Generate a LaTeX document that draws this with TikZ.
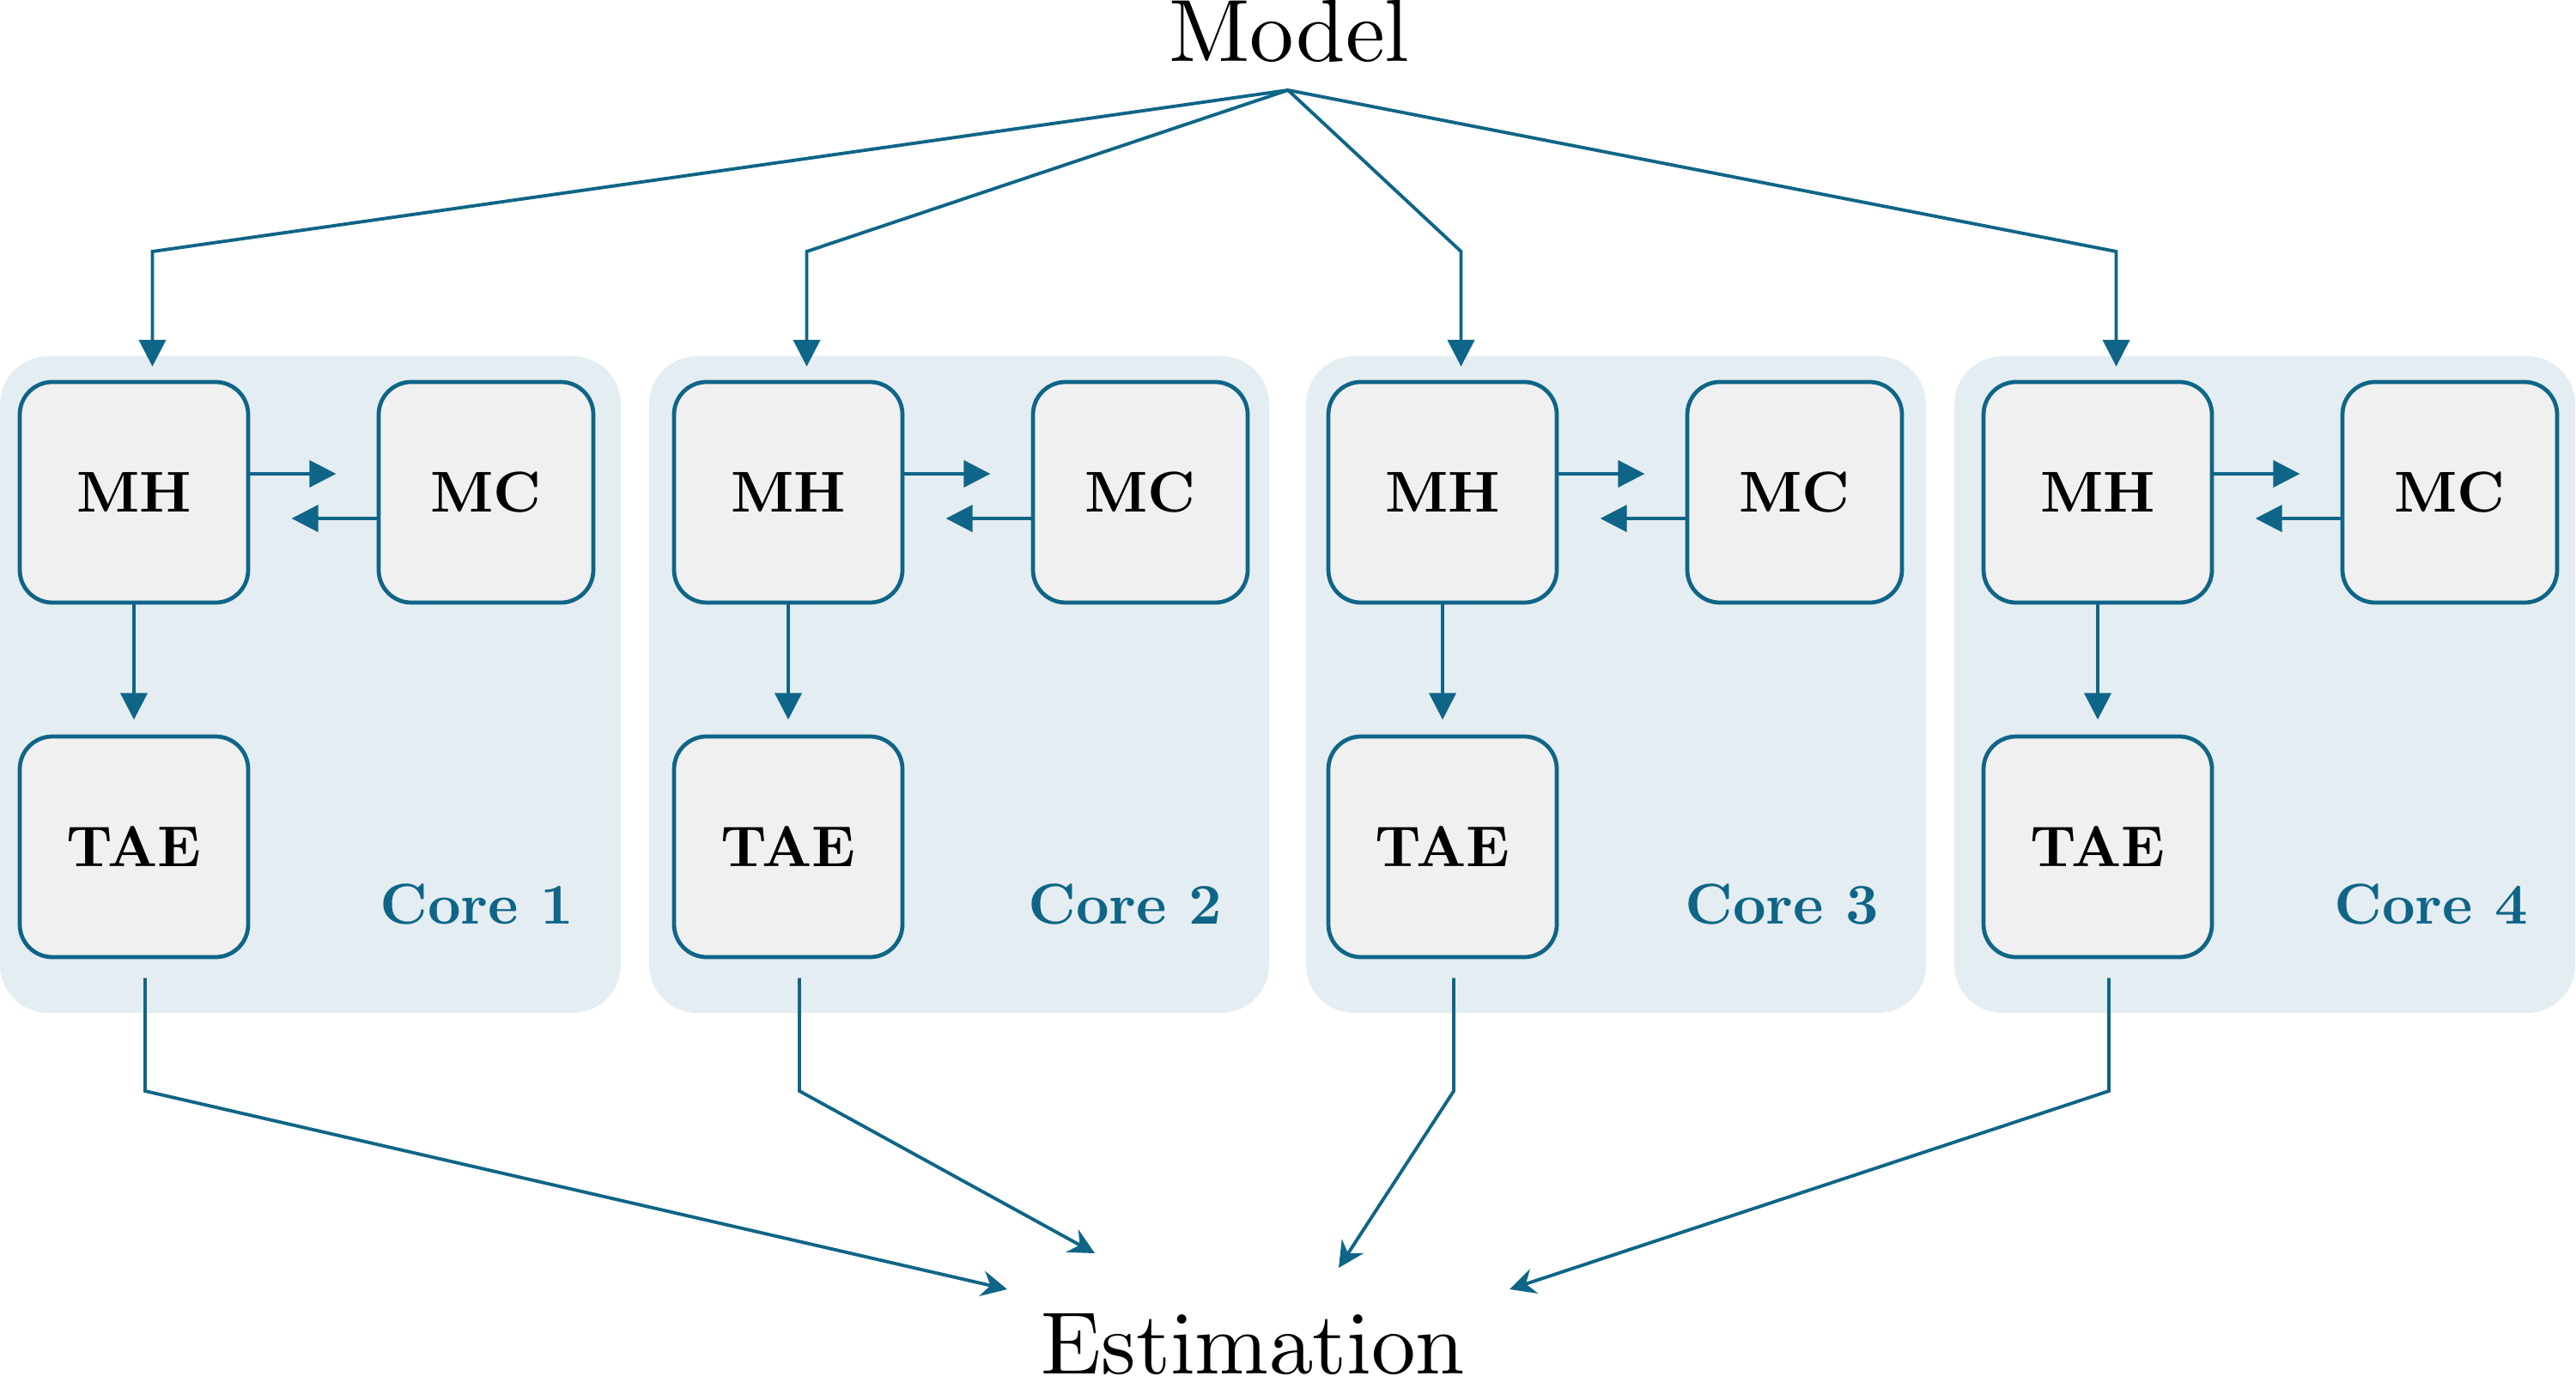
\documentclass[tikz,border=0pt]{standalone}
\usepackage{tikz}
\usetikzlibrary{arrows.meta,calc}
\definecolor{strokeblue}{HTML}{0F6587}
\definecolor{corefill}{HTML}{E4EDF1}
\definecolor{boxfill}{HTML}{F0F0F0}
\font\bigrm=cmr10 at 29.3pt
\font\boldbx=cmbx10 at 19.1pt
\tikzset{
  box/.style={draw=strokeblue, fill=boxfill, line width=1.35pt, rounded corners=0.38cm,
    minimum height=2.57cm, inner sep=0pt, font=\boldbx},
  corelabel/.style={anchor=base east, inner sep=0pt, text=strokeblue, font=\boldbx},
  bigtext/.style={anchor=base, inner sep=0pt, font=\bigrm},
  conn/.style={draw=strokeblue, line width=1.1pt},
  arr/.style={conn, -{Triangle[length=0.31cm,width=0.31cm]}},
  arrb/.style={conn, -{Stealth[length=0.30cm,width=0.30cm,inset=0.10cm]}},
}
\begin{document}
\begin{tikzpicture}
\useasboundingbox (0,0) rectangle (30,-16.03);
\node[bigtext] (model) at (15.015,-0.72) {Model};
\node[bigtext] (est) at (14.595,-16.00) {Estimation};
\coordinate (hub) at (15.00,-1.05);
\foreach \i/\bl/\br/\o/\tx/\ty in {1/0/7.23/0/11.73/-15.02, 2/7.56/14.78/7.62/12.75/-14.60, 3/15.21/22.43/15.24/15.59/-14.77, 4/22.76/29.99/22.87/17.58/-15.02}{
  \fill[corefill, rounded corners=0.56cm] (\bl,-4.15) rectangle (\br,-11.80);
  \node[box, minimum width=2.66cm] (mh\i) at (\o+1.56,-5.735) {MH};
  \node[box, minimum width=2.50cm] (mc\i) at (\o+5.66,-5.735) {MC};
  \node[box, minimum width=2.66cm] (tae\i) at (\o+1.56,-9.865) {TAE};
  \node[corelabel] (lab\i) at (\br-0.54,-10.76) {Core \i};
  \coordinate (bend\i) at (\o+1.775,-2.93);
  \coordinate (in\i) at (\o+1.775,-4.27);
  \coordinate (ob\i) at (\o+1.69,-12.71);
  \coordinate (tip\i) at (\tx,\ty);
  \draw[arr] (hub) -- (bend\i) -- (in\i);
  \draw[arr] ($(mh\i.east)+(0,0.215)$) -- ++(1.00,0);
  \draw[arr] ($(mc\i.west)+(0,-0.305)$) -- ++(-0.99,0);
  \draw[arr] (mh\i.south) -- ++(0,-1.34);
  \draw[arrb] ($(tae\i.south)+(0.13,-0.22)$) -- (ob\i) -- (tip\i);
}
\end{tikzpicture}
\end{document}
